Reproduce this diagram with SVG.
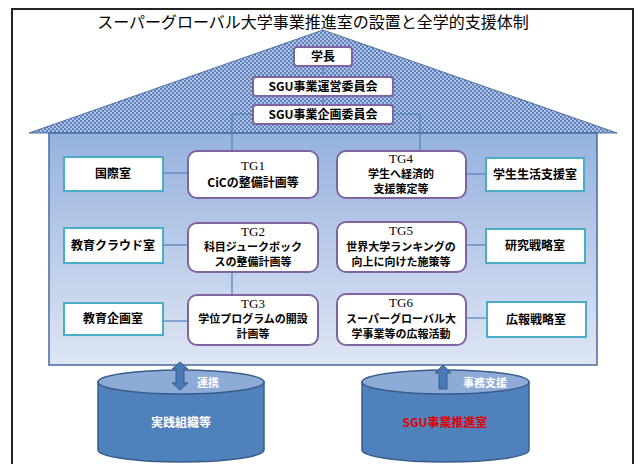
<svg xmlns="http://www.w3.org/2000/svg" width="640" height="464" viewBox="0 0 640 464">
<defs>
<pattern id="hatch" width="4" height="4" patternUnits="userSpaceOnUse">
<rect width="4" height="4" fill="#b0c3e4"/>
<rect x="0" y="0" width="2" height="2" fill="#5f82bf"/>
<rect x="2" y="2" width="2" height="2" fill="#5f82bf"/>
</pattern>
<linearGradient id="body" x1="0" y1="0" x2="0" y2="1">
<stop offset="0" stop-color="#95b2de"/>
<stop offset="1" stop-color="#dfe6f4"/>
</linearGradient>
</defs>
<style>
text{font-family:"Noto Sans CJK JP","Noto Sans",sans-serif;fill:#000;text-anchor:middle}
.title{font-size:16px}
.lbl{font-size:12px;font-weight:bold}
.sm{font-size:11px;font-weight:bold}
.tg{font-family:"Liberation Serif","Noto Sans CJK JP",serif;font-size:13px}
.top{fill:#fff;stroke:#8064a2;stroke-width:2}
.tgbox{fill:#fff;stroke:#8064a2;stroke-width:2}
.side{fill:#fff;stroke:#4bacc6;stroke-width:2}
.ln{stroke:#4f81bd;stroke-width:1.2;fill:none}
.wt{fill:#fff;font-size:11px;font-weight:bold}
.cyl{fill:#4f81bd;stroke:#385d8a;stroke-width:1.5}
.cyltop{fill:#8eabd8;stroke:#385d8a;stroke-width:1.5}
.arr{fill:#4a7ab5;stroke:#385d8a;stroke-width:1}
</style>
<rect x="0" y="0" width="640" height="464" fill="#fff"/>
<rect x="12" y="9" width="621" height="470" fill="#fff" stroke="#222" stroke-width="2"/>
<text class="title" x="313" y="28">スーパーグローバル大学事業推進室の設置と全学的支援体制</text>

<g id="roof"><polygon points="29,133 323,30 617,133" fill="url(#hatch)" stroke="#4f6fa0" stroke-width="1"/></g>
<g id="house"><rect x="49" y="133" width="548" height="232" fill="url(#body)" stroke="#4a6a9c" stroke-width="1.5"/></g>

<g id="connectors">
<line class="ln" x1="323" y1="65" x2="323" y2="106"/>
<polyline class="ln" points="232,151 232,114 420,114 420,151"/>
<line class="ln" x1="232" y1="272" x2="232" y2="295"/>
<line class="ln" x1="163" y1="173" x2="188" y2="173"/>
<line class="ln" x1="163" y1="245" x2="188" y2="245"/>
<line class="ln" x1="163" y1="321" x2="188" y2="321"/>
<line class="ln" x1="466" y1="174" x2="486" y2="174"/>
<line class="ln" x1="466" y1="245" x2="486" y2="245"/>
<line class="ln" x1="466" y1="318" x2="487" y2="318"/>
</g>

<g id="gakucho"><rect class="top" x="294" y="47" width="58" height="19" rx="3"/><text class="lbl" x="323" y="61">学長</text></g>
<g id="unei"><rect class="top" x="253" y="77" width="140" height="19" rx="3"/><text class="lbl" x="323" y="91">SGU事業運営委員会</text></g>
<g id="kikaku"><rect class="top" x="253" y="105" width="140" height="19" rx="3"/><text class="lbl" x="323" y="119">SGU事業企画委員会</text></g>

<g id="kokusai"><rect class="side" x="64" y="157" width="99" height="34"/><text class="lbl" x="113" y="178">国際室</text></g>
<g id="cloud"><rect class="side" x="64" y="228" width="99" height="35"/><text class="lbl" x="113" y="250">教育クラウド室</text></g>
<g id="kyoiku"><rect class="side" x="64" y="303" width="99" height="32"/><text class="lbl" x="113" y="323">教育企画室</text></g>

<g id="tg1"><rect class="tgbox" x="188" y="151" width="130" height="47" rx="9"/><text class="tg" x="253" y="170">TG1</text><text class="lbl" x="253" y="187">CiCの整備計画等</text></g>
<g id="tg2"><rect class="tgbox" x="188" y="223" width="130" height="49" rx="9"/><text class="tg" x="253" y="236">TG2</text><text class="sm" x="253" y="251">科目ジュークボック</text><text class="sm" x="253" y="266">スの整備計画等</text></g>
<g id="tg3"><rect class="tgbox" x="188" y="295" width="130" height="50" rx="9"/><text class="tg" x="253" y="308">TG3</text><text class="sm" x="253" y="323">学位プログラムの開設</text><text class="sm" x="253" y="338">計画等</text></g>

<g id="tg4"><rect class="tgbox" x="337" y="151" width="129" height="47" rx="9"/><text class="tg" x="401" y="163">TG4</text><text class="sm" x="401" y="178">学生へ経済的</text><text class="sm" x="401" y="193">支援策定等</text></g>
<g id="tg5"><rect class="tgbox" x="337" y="222" width="129" height="50" rx="9"/><text class="tg" x="401" y="235">TG5</text><text class="sm" x="401" y="251">世界大学ランキングの</text><text class="sm" x="401" y="266">向上に向けた施策等</text></g>
<g id="tg6"><rect class="tgbox" x="337" y="294" width="129" height="51" rx="9"/><text class="tg" x="401" y="307">TG6</text><text class="sm" x="401" y="323">スーパーグローバル大</text><text class="sm" x="401" y="338">学事業等の広報活動</text></g>

<g id="gakusei"><rect class="side" x="486" y="158" width="98" height="33"/><text class="lbl" x="535" y="179">学生生活支援室</text></g>
<g id="kenkyu"><rect class="side" x="486" y="229" width="99" height="34"/><text class="lbl" x="535" y="250">研究戦略室</text></g>
<g id="koho"><rect class="side" x="487" y="302" width="99" height="35"/><text class="lbl" x="536" y="324">広報戦略室</text></g>

<g id="jissen">
<path class="cyl" d="M98,382 L98,450 A83,12 0 0 0 264,450 L264,382 Z"/>
<ellipse class="cyltop" cx="181" cy="382" rx="83" ry="12"/>
<text class="wt" x="181" y="427" style="font-size:12px">実践組織等</text>
</g>
<g id="suishin">
<path class="cyl" d="M362,382 L362,450 A83.5,12 0 0 0 529,450 L529,382 Z"/>
<ellipse class="cyltop" cx="445.5" cy="382" rx="83.5" ry="12"/>
<text x="445" y="427" style="font-size:12px;font-weight:bold;fill:#e00000">SGU事業推進室</text>
</g>

<g id="arrows">
<polygon class="arr" points="180,362 188,369 184,369 184,383 188,383 180,390 172,383 176,383 176,369 172,369"/>
<text class="wt" x="208" y="387">連携</text>
<polygon class="arr" points="443,365 451,373 447,373 447,389 439,389 439,373 435,373"/>
<text class="wt" x="485" y="387">事務支援</text>
</g>
</svg>
